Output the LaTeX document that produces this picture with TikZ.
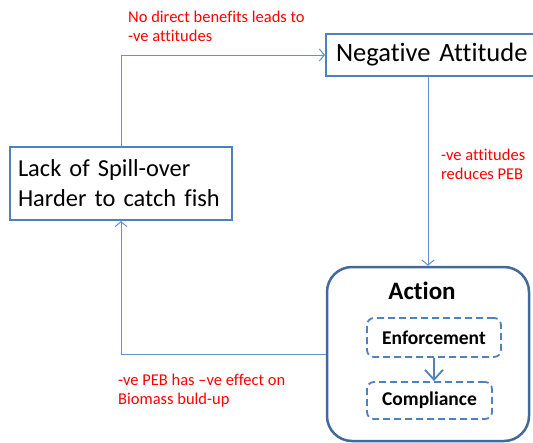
\documentclass[tikz,border=0pt]{standalone}
\usepackage{fontspec}
\setmainfont{Carlito}[Ligatures=NoCommon]
\usetikzlibrary{positioning}
\usetikzlibrary{calc,arrows.meta}
\definecolor{boxblue}{RGB}{79,129,189}
\definecolor{actblue}{RGB}{65,105,155}
\definecolor{lineblue}{RGB}{100,145,205}

\begin{document}
\begin{tikzpicture}
	[   x=1pt,y=-1pt,
	    bnode/.style={draw=boxblue,line width=2pt,fill=white,text width=#1,align=left},
	    dnode/.style={draw=boxblue,dash pattern=on 7pt off 4pt,line width=1.8pt,rounded corners=7pt,minimum width=#1,font=\bfseries\fontsize{19.5}{22}\selectfont},
	    note/.style={text=red,anchor=north west,align=left,inner sep=0pt,font=\fontsize{16.5}{19}\selectfont},
	]
	\tikzset{normal arrow/.style={draw=lineblue,line width=1pt,-{Straight Barb[length=5pt,width=12pt]}}}
	\useasboundingbox (0,0) rectangle (533,442);
	\clip (0,0) rectangle (533,442);
	
	\node[bnode=220pt,inner xsep=10pt,minimum height=42pt,font=\fontsize{26.5}{30}\selectfont] (att) at (446,55) {Negative Attitude};
	
	\node[bnode=206pt,inner xsep=8pt,minimum height=73pt,font=\fontsize{24.4}{30}\selectfont] (lack) at (121,183.5) {Lack of Spill-over\\Harder to catch fish};
	
	\node[draw=actblue,line width=2.5pt,rounded corners=25pt,minimum width=202pt,minimum height=174pt] (act) at (428,354) {};
	\node[font=\bfseries\fontsize{25}{28}\selectfont] (acttitle) at (422,291) {Action};
	
	\node[dnode=134pt,minimum height=39pt] (enf) at (434,337.5) {Enforcement};
	\node[dnode=125pt,minimum height=37pt] (comp) at (429.5,400.5) {Compliance};
	
	\node[note] (n-1) at (128,11) {No direct benefits leads to\\-ve attitudes};
	\node[note] (n-2) at (441,149) {-ve attitudes\\reduces PEB};
	\node[note] (n-3) at (118,374) {-ve PEB has –ve effect on\\Biomass buld-up};
	
	\path[normal arrow] (lack.north) |- (att.west);
	\path[normal arrow] (att.south -| act.north) -- (act.north);
	\path[normal arrow] (act.west) -| (lack.south);
	\path[draw=boxblue,line width=1.8pt,-{Straight Barb[length=10pt,width=18pt]}] (enf.south) -- (enf.south |- comp.north);
\end{tikzpicture}
\end{document}
